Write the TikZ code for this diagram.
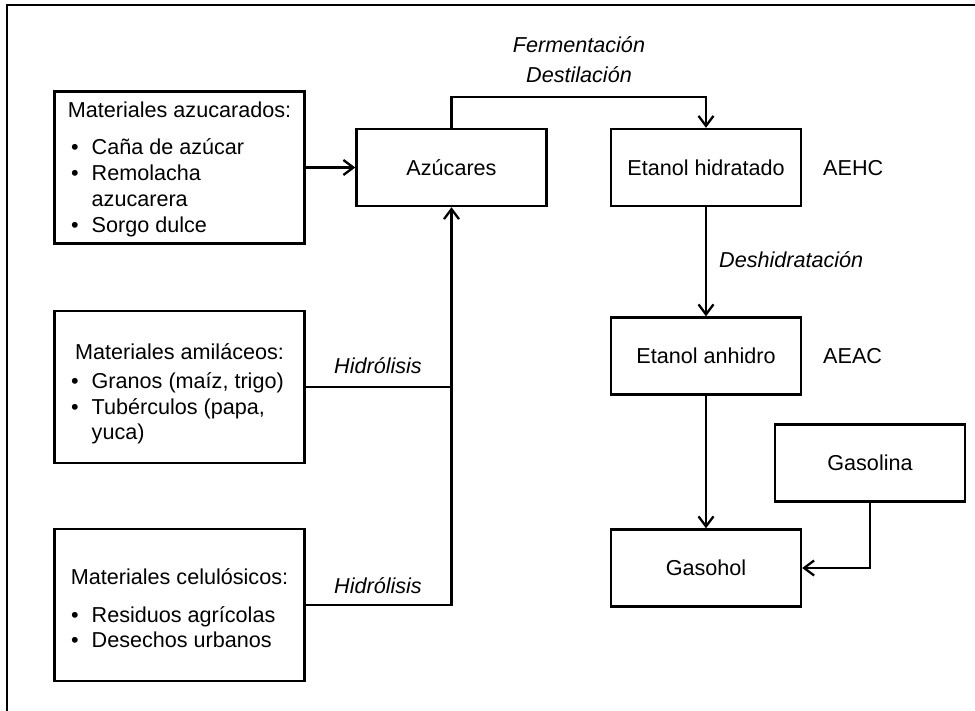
\documentclass[tikz,border=0pt]{standalone}
\usepackage{fontspec}
\setmainfont{Liberation Sans}
\usetikzlibrary{arrows.meta}
\newcommand\fs{\fontsize{21.6}{26}\selectfont}
\newcommand\bul{\makebox[20.5pt][l]{\textbullet}}
\newcommand\ind{\hspace*{20.5pt}}
\begin{document}
\begin{tikzpicture}[x=1pt,y=-1pt,
  every node/.style={font=\fs},
  box/.style={draw, line width=2.4pt, inner sep=0pt, text height=15.5pt, text depth=0pt},
  srcbox/.style={box, minimum width=250pt, minimum height=152pt},
  procbox/.style={box, minimum width=190pt, minimum height=77pt},
  lbl/.style={inner sep=0pt, text height=15.5pt, text depth=0pt},
  itlbl/.style={lbl, font=\fs\itshape},
  listtxt/.style={anchor=base west, inner sep=0pt},
  ln/.style={line width=2.3pt},
  arr/.style={ln, -{Straight Barb[length=10pt,width=15pt]}}]

\useasboundingbox (0,0) rectangle (975,711);

% outer frame
\draw[line width=2.4pt] (975,5) -- (7,5) -- (7,711);

% raw material boxes
\node[srcbox] (b1) at (179.5,167.5) {};
\node[srcbox] (b2) at (179.5,387) {};
\node[srcbox] (b3) at (179.5,605) {};

\node[lbl] (h1) at (179.5,110) {Materiales azucarados:};
\node[listtxt] (l1) at (71,154.75) {\fs\begin{tabular}[t]{@{}l@{}}
  \bul Caña de azúcar\\ \bul Remolacha\\ \ind azucarera\\ \bul Sorgo dulce\end{tabular}};

\node[lbl] (h2) at (179.5,352) {Materiales amiláceos:};
\node[listtxt] (l2) at (71,388.75) {\fontsize{21.6}{25.5}\selectfont\begin{tabular}[t]{@{}l@{}}
  \bul Granos (maíz, trigo)\\ \bul Tubérculos (papa,\\ \ind yuca)\end{tabular}};

\node[lbl] (h3) at (179.5,577) {Materiales celulósicos:};
\node[listtxt] (l3) at (71,622.25) {\fontsize{21.6}{25}\selectfont\begin{tabular}[t]{@{}l@{}}
  \bul Residuos agrícolas\\ \bul Desechos urbanos\end{tabular}};

% process boxes
\node[procbox] (az) at (451.5,167.5) {Azúcares};
\node[procbox] (eh) at (706,167.5) {Etanol hidratado};
\node[procbox] (ea) at (706,356) {Etanol anhidro};
\node[procbox] (gh) at (706,568) {Gasohol};
\node[procbox] (gs) at (870,463) {Gasolina};

% side labels
\node[lbl, anchor=west] (aehc) at (823,168) {AEHC};
\node[lbl, anchor=west] (aeac) at (823,356) {AEAC};

% process step labels
\node[itlbl] (ferm) at (579,45) {Fermentación};
\node[itlbl] (dest) at (579,75) {Destilación};
\node[itlbl, anchor=west] (desh) at (719,260) {Deshidratación};
\node[itlbl] (hid1) at (378,366) {Hidrólisis};
\node[itlbl] (hid2) at (378,586) {Hidrólisis};

% connectors
\draw[arr] (b1.east) -- (az.west);
\draw[arr] (az.north) -- ++(0,-31) -| (eh.north);
\draw[arr] (eh.south) -- (ea.north);
\draw[arr] (ea.south) -- (gh.north);
\draw[arr] (gs.south) |- (gh.east);
\draw[ln] (b2.east) -- (b2.east -| az.south);
\draw[arr] (b3.east) -| (az.south);
\end{tikzpicture}
\end{document}
